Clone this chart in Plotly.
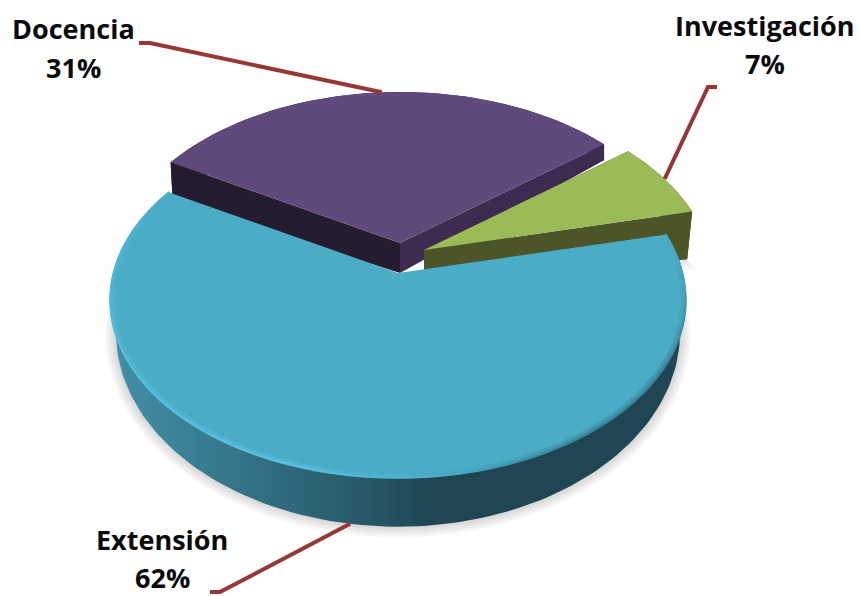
import numpy as np
import plotly.graph_objects as go

# Slice data
categories = ["Docencia", "Investigación", "Extensión"]
percentages = [31, 7, 62]

# Slice colours: top face, left cut face, right cut face
top_colors = ["#604A7B", "#9BBB59", "#4BACC6"]
left_cut_colors = ["#261C30", "#4B5527", "#1F4652"]
right_cut_colors = ["#3D2C4F", "#4B5527", "#1F4652"]

# Pull-out of each slice from the common pie centre, in pixels
slice_shift_x = [2, 26, 0]
slice_shift_y = [-30, -23, 0]

# Wall offset of the two pulled-out slices at the start and end of their arcs
wall_start_dx = [2, 0]
wall_start_dy = [38, 30]
wall_end_dx = [0, -5]
wall_end_dy = [16, 48]

# Label text centres and leader elbows
label_x = [73, 765, 162]
name_y = [28, 25, 539]
pct_y = [67, 63, 577]
elbow_x = [150, 708, 220]
elbow_y = [43, 87, 592]
stub_x = [139, 717, 210]
stub_y = [43, 87, 592]

LEADER_COLOR = "#953735"
START_ANGLE = -60.0

# Perspective model of the tilted disc
CX, CY = 398.0, 273.0
RX, RY = 285.0, 174.0
PERSP = 0.152
DROP = 30.0
BOTTOM_RX = 0.978
BOTTOM_RY = 1.09


def project(angle_deg, shift_x=0.0, shift_y=0.0, bottom=False):
    """Angle is measured clockwise from the far side of the disc."""
    a = np.radians(angle_deg)
    u, v = np.sin(a), -np.cos(a)
    w = 1 - PERSP * v
    kx, ky, dy = (BOTTOM_RX, BOTTOM_RY, DROP) if bottom else (1.0, 1.0, 0.0)
    return (CX + shift_x + kx * RX * u / w, CY + shift_y + dy + ky * RY * v / w)


def polygon(xs, ys, color):
    return go.Scatter(
        x=list(xs), y=list(ys), mode="lines", fill="toself", fillcolor=color,
        line=dict(width=0), hoverinfo="skip", showlegend=False,
    )


# Slice boundaries come straight from the percentages
edges = START_ANGLE + np.concatenate([[0], np.cumsum(percentages)]) * 3.6
spans = [(edges[i], edges[i + 1]) for i in range(len(categories))]

fig = go.Figure()

# Soft ground shadow around the lower part of the pie
lower = np.linspace(85, 295, 120)
for grow in [11, 9, 7, 5, 3, 1]:
    bx, by = project(lower, bottom=True)
    sx = CX + (bx - CX) * (1 + grow / 285)
    sy = CY + 30 + (by - CY - 30) * (1 + grow / 225)
    fig.add_trace(polygon(np.r_[CX, sx], np.r_[CY + 30, sy], "rgba(0,0,0,0.028)"))

# Small shadow beside the Investigación wall
ia, ib = spans[1]
corner_x, corner_y = project(ib, slice_shift_x[1], slice_shift_y[1])
for grow in [9, 6, 3]:
    fig.add_trace(polygon(
        [corner_x - 40, corner_x + wall_end_dx[1] + grow, corner_x - 40],
        [corner_y + 20, corner_y + wall_end_dy[1] + grow, corner_y + wall_end_dy[1] + grow + 6],
        "rgba(0,0,0,0.03)",
    ))

# Docencia and Investigación: solid cut faces and rim, then the top face
for i in (0, 1):
    a0, a1 = spans[i]
    dx, dy = slice_shift_x[i], slice_shift_y[i]
    arc = np.linspace(a0, a1, 60)
    mix = np.linspace(0, 1, 60)
    tx, ty = project(arc, dx, dy)
    lx = tx + wall_start_dx[i] + (wall_end_dx[i] - wall_start_dx[i]) * mix
    ly = ty + wall_start_dy[i] + (wall_end_dy[i] - wall_start_dy[i]) * mix
    ax, ay = CX + dx, CY + dy
    fig.add_trace(polygon(np.r_[tx, lx[::-1]], np.r_[ty, ly[::-1]], right_cut_colors[i]))
    fig.add_trace(polygon([tx[0], ax, ax, lx[0]], [ty[0], ay, ay + DROP, ly[0]], left_cut_colors[i]))
    fig.add_trace(polygon([tx[-1], ax, ax, lx[-1]], [ty[-1], ay, ay + DROP, ly[-1]], right_cut_colors[i]))
    fig.add_trace(polygon(np.r_[ax, tx], np.r_[ay, ty], top_colors[i]))

# Extensión: shaded outer wall
a0, a1 = spans[2]
arc = np.linspace(a0, a1, 160)
tx, ty = project(arc)
lx, ly = project(arc, bottom=True)
fig.add_trace(go.Scatter(
    x=np.r_[tx, lx[::-1]], y=np.r_[ty, ly[::-1]], mode="lines", fill="toself",
    line=dict(width=0), hoverinfo="skip", showlegend=False,
    fillgradient=dict(
        type="horizontal", start=110, stop=690,
        colorscale=[[0, "#4290A8"], [0.12, "#3A8298"], [0.3, "#2F6A7C"],
                    [0.45, "#265766"], [0.55, "#1F4652"], [1, "#1F4652"]],
    ),
))
fig.add_trace(polygon(np.r_[CX, tx], np.r_[CY, ty], top_colors[2]))

# Bevelled rim: bright on the lit side, fading into a soft dark seam on the other
stops_angle = [a0, 95, 120, 150, 175, 200, 240, 280, a1]
stops_rgb = np.array([
    [0x4B, 0xAC, 0xC6], [0x46, 0xA2, 0xBA], [0x37, 0x84, 0x9A], [0x38, 0x88, 0x9E],
    [0x4C, 0xAE, 0xCA], [0x5A, 0xC2, 0xE2], [0x56, 0xBE, 0xDC], [0x50, 0xB4, 0xD0],
    [0x4B, 0xAC, 0xC6],
])
seg_edges = np.linspace(a0, a1, 81)
for width, opacity, inset in [(5, 0.45, 0.990), (2.5, 1.0, 0.997)]:
    for s, e in zip(seg_edges[:-1], seg_edges[1:]):
        mid = (s + e) / 2
        rgb = [int(np.interp(mid, stops_angle, stops_rgb[:, c])) for c in range(3)]
        sx, sy = project(np.array([s, e]))
        sx = CX + (sx - CX) * inset
        sy = CY + (sy - CY) * inset
        fig.add_trace(go.Scatter(
            x=sx, y=sy, mode="lines", opacity=opacity,
            line=dict(color=f"rgb({rgb[0]},{rgb[1]},{rgb[2]})", width=width),
            hoverinfo="skip", showlegend=False,
        ))

# Leader lines run from the middle of each slice's rim to its elbow
for i in range(len(categories)):
    mid = sum(spans[i]) / 2
    px, py = project(mid, slice_shift_x[i], slice_shift_y[i], bottom=(i == 2))
    fig.add_trace(go.Scatter(
        x=[stub_x[i], elbow_x[i], px], y=[stub_y[i], elbow_y[i], py], mode="lines",
        line=dict(color=LEADER_COLOR, width=4), hoverinfo="skip", showlegend=False,
    ))

# Each label is a name line and a percentage line
for i, name in enumerate(categories):
    for text, y in ((name, name_y[i]), (f"{percentages[i]}%", pct_y[i])):
        fig.add_annotation(
            x=label_x[i], y=y, xref="x", yref="y", showarrow=False, align="center",
            text=f"<b>{text}</b>",
            font=dict(family="Open Sans", size=27, color="#0A0A0A"),
        )

fig.update_layout(
    width=860, height=596, margin=dict(l=0, r=0, t=0, b=0),
    paper_bgcolor="white", plot_bgcolor="white", showlegend=False,
    xaxis=dict(range=[0, 860], visible=False, fixedrange=True),
    yaxis=dict(range=[596, 0], visible=False, fixedrange=True),
)

fig.write_html("out.html", config={"displayModeBar": False})
